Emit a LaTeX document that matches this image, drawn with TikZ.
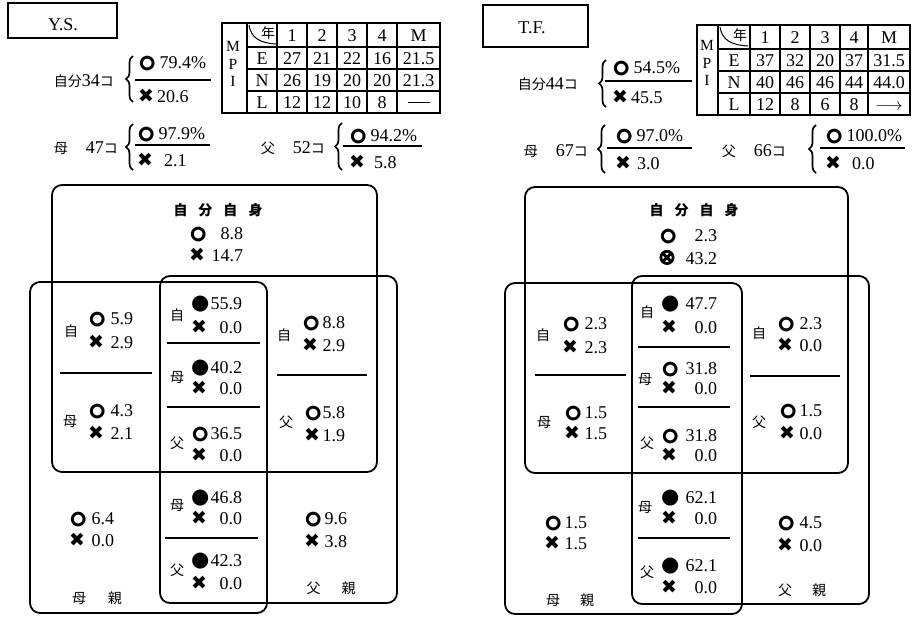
\documentclass[tikz,border=0pt]{standalone}
\usepackage{fontspec}
\setmainfont{Liberation Serif}
\newfontfamily\jpf{Noto Sans CJK JP}
\newfontfamily\symf{DejaVu Sans}
\newfontfamily\symbf[FakeBold=6]{DejaVu Sans}
\newfontfamily\emo{Noto Emoji}
\usetikzlibrary{decorations.pathreplacing}
\newcommand\Jp[1]{{\fontsize{14}{15}\selectfont\jpf #1}}
\newcommand\So{{\fontsize{14.5}{14}\selectfont\emo ⭕}}
\newcommand\Sx{{\fontsize{19}{18}\selectfont\symf ✖}}
\newcommand\Sb{{\fontsize{21}{20}\selectfont\symf ●}}
\newcommand\Sox{{\fontsize{21}{18}\selectfont\symbf ⊗}}
\newcommand\ent[3]{\makebox[#1][l]{#2\hfill #3}}
\begin{document}
\begin{tikzpicture}[x=1pt,y=-1pt,
  num/.style={font=\fontsize{18}{20}\selectfont, inner sep=0pt, text height=12pt, text depth=0pt},
  mpi/.style={font=\fontsize{15.5}{17.5}\selectfont, inner sep=0pt, align=center},
  jpt/.style={font=\fontsize{14}{15}\selectfont\jpf, inner sep=0pt},
  ttl/.style={font=\fontsize{14}{15}\selectfont\jpf\bfseries, inner sep=0pt},
  venn/.style={line width=1.8pt, rounded corners=10pt},
  divd/.style={line width=1.5pt},
  frac/.style={line width=1.5pt},
  brc/.style={decorate, decoration={brace, amplitude=7pt}, line width=1.7pt},
  tabin/.style={line width=1.2pt},
  tabout/.style={line width=2pt},
  tbox/.style={draw, line width=1.5pt, inner sep=0pt},
]
\useasboundingbox (0,0) rectangle (912,616);

%%%%%%%%%%%%%%%% LEFT PANEL : Y.S. %%%%%%%%%%%%%%%%
\node[tbox, minimum width=109pt, minimum height=35pt] (ysbox) at (62.5,20.5) {};
\node[num] (ystxt) at (63,24) {Y.S.};

% self
\node[num, anchor=east] (ysself) at (114,80) {\Jp{自分}34\Jp{コ}};
\draw[brc] (133,102) -- (133,56);
\node[num, anchor=west] (ysselfo) at (138,62) {\So\,79.4\%};
\draw[frac] (135,80) -- (211,80);
\node[num, anchor=west] (ysselfx) at (138,96) {\Sx\,20.6};
% mother
\node[num, anchor=east] (ysmom) at (118,147) {\Jp{母}\hspace{18pt}47\Jp{コ}};
\draw[brc] (133,170) -- (133,124);
\node[num, anchor=west] (ysmomo) at (137,133) {\So\,97.9\%};
\draw[frac] (135,145) -- (210,145);
\node[num, anchor=west] (ysmomx) at (137,160) {\Sx\hspace{11pt}2.1};
% father
\node[num, anchor=east] (ysdad) at (325,147) {\Jp{父}\hspace{18pt}52\Jp{コ}};
\draw[brc] (342,170) -- (342,123);
\node[num, anchor=west] (ysdado) at (349,135) {\So\,94.2\%};
\draw[frac] (343,146) -- (422,146);
\node[num, anchor=west] (ysdadx) at (349,162) {\Sx\hspace{9pt}5.8};

% table
\draw[tabout] (222,23) rectangle (440,113);
\foreach \xx in {247,277,307,337,367,397} \draw[tabin] (\xx,23) -- (\xx,113);
\foreach \yy in {47,69,91} \draw[tabin] (247,\yy) -- (440,\yy);
\draw[line width=1pt] (249,25) .. controls (251,38) and (260,43) .. (276,44);
\node[jpt] (ysnen) at (268,33) {年};
\node[mpi] (ysMPI) at (233,64) {M\\P\\I};
\foreach \v [count=\i] in {1,2,3,4,M}
  \node[num] (ysh\i) at ({262+30*\i+(\i==5)*6.5},35) {\v};
\node[num] (ysE) at (262,58) {E};
\node[num] (ysN) at (262,80) {N};
\node[num] (ysL) at (262,102) {L};
\foreach \v [count=\i] in {27,21,22,16,21.5}
  \node[num] (yse\i) at ({262+30*\i+(\i==5)*6.5},58) {\v};
\foreach \v [count=\i] in {26,19,20,20,21.3}
  \node[num] (ysn\i) at ({262+30*\i+(\i==5)*6.5},80) {\v};
\foreach \v [count=\i] in {12,12,10,8}
  \node[num] (ysl\i) at ({262+30*\i},102) {\v};
\node[num] (ysl5) at (418.5,102) {\rule[5pt]{22pt}{1.4pt}};

% Venn
\draw[venn] (52,185) rectangle (377,472);
\draw[venn] (30,282) rectangle (267,613);
\draw[venn] (160,276) rectangle (397,603);
\draw[divd] (60,373) -- (152,373);
\draw[divd] (277,375) -- (367,375);
\draw[divd] (167,343) -- (260,343);
\draw[divd] (167,407) -- (260,407);
\draw[divd] (165,538) -- (258,538);

\node[ttl] (ysT) at (218,210) {自\hspace{11pt}分\hspace{11pt}自\hspace{11pt}身};
\node[num, anchor=west] (ysTo) at (189,233) {\ent{54pt}{\So}{8.8}};
\node[num, anchor=west] (ysTx) at (189,255) {\ent{54pt}{\Sx}{14.7}};

\node[jpt] (ysLa) at (71,331) {自};
\node[num, anchor=west] (ysLao) at (88,318) {\ent{45pt}{\So}{5.9}};
\node[num, anchor=west] (ysLax) at (88,342) {\ent{45pt}{\Sx}{2.9}};
\node[jpt] (ysLb) at (70,422) {母};
\node[num, anchor=west] (ysLbo) at (88,410) {\ent{45pt}{\So}{4.3}};
\node[num, anchor=west] (ysLbx) at (88,433) {\ent{45pt}{\Sx}{2.1}};

\node[jpt] (ysRa) at (284,335) {自};
\node[num, anchor=west] (ysRao) at (302,322) {\ent{43pt}{\So}{8.8}};
\node[num, anchor=west] (ysRax) at (302,345) {\ent{43pt}{\Sx}{2.9}};
\node[jpt] (ysRb) at (286,422) {父};
\node[num, anchor=west] (ysRbo) at (304,412) {\ent{41pt}{\So}{5.8}};
\node[num, anchor=west] (ysRbx) at (304,435) {\ent{41pt}{\Sx}{1.9}};

\node[jpt] (ysMa) at (177,315) {自};
\node[num, anchor=west] (ysMao) at (191,303) {\ent{51pt}{\Sb}{55.9}};
\node[num, anchor=west] (ysMax) at (191,327) {\ent{51pt}{\Sx}{0.0}};
\node[jpt] (ysMb) at (177,378) {母};
\node[num, anchor=west] (ysMbo) at (191,367) {\ent{51pt}{\Sb}{40.2}};
\node[num, anchor=west] (ysMbx) at (191,388) {\ent{51pt}{\Sx}{0.0}};
\node[jpt] (ysMc) at (177,443) {父};
\node[num, anchor=west] (ysMco) at (191,433) {\ent{51pt}{\So}{36.5}};
\node[num, anchor=west] (ysMcx) at (191,455) {\ent{51pt}{\Sx}{0.0}};
\node[jpt] (ysMd) at (177,506) {母};
\node[num, anchor=west] (ysMdo) at (191,497) {\ent{51pt}{\Sb}{46.8}};
\node[num, anchor=west] (ysMdx) at (191,518) {\ent{51pt}{\Sx}{0.0}};
\node[jpt] (ysMe) at (177,570) {父};
\node[num, anchor=west] (ysMeo) at (191,560) {\ent{51pt}{\Sb}{42.3}};
\node[num, anchor=west] (ysMex) at (191,583) {\ent{51pt}{\Sx}{0.0}};

\node[num, anchor=west] (ysBLo) at (69,518) {\ent{45pt}{\So}{6.4}};
\node[num, anchor=west] (ysBLx) at (69,540) {\ent{45pt}{\Sx}{0.0}};
\node[num, anchor=west] (ysBRo) at (304,518) {\ent{43pt}{\So}{9.6}};
\node[num, anchor=west] (ysBRx) at (304,541) {\ent{43pt}{\Sx}{3.8}};
\node[jpt] (ysmother) at (97,598) {母\hspace{22pt}親};
\node[jpt] (ysfather) at (331,588) {父\hspace{21pt}親};

%%%%%%%%%%%%%%%% RIGHT PANEL : T.F. %%%%%%%%%%%%%%%%
\node[tbox, minimum width=105pt, minimum height=42pt] (tfbox) at (535.5,26) {};
\node[num] (tftxt) at (532,27) {T.F.};

\node[num, anchor=east] (tfself) at (578,83) {\Jp{自分}44\Jp{コ}};
\draw[brc] (606,107) -- (606,60);
\node[num, anchor=west] (tfselfo) at (612,67) {\So\,54.5\%};
\draw[frac] (605,81) -- (692,81);
\node[num, anchor=west] (tfselfx) at (612,97) {\Sx\,45.5};

\node[num, anchor=east] (tfmom) at (588,150) {\Jp{母}\hspace{18pt}67\Jp{コ}};
\draw[brc] (605,173) -- (605,125);
\node[num, anchor=west] (tfmomo) at (615,135) {\So\,97.0\%};
\draw[frac] (607,148) -- (692,148);
\node[num, anchor=west] (tfmomx) at (615,163) {\Sx\hspace{6pt}3.0};

\node[num, anchor=east] (tfdad) at (786,150) {\Jp{父}\hspace{18pt}66\Jp{コ}};
\draw[brc] (816,173) -- (816,125);
\node[num, anchor=west] (tfdado) at (825,135) {\So\,100.0\%};
\draw[frac] (820,148) -- (905,148);
\node[num, anchor=west] (tfdadx) at (825,163) {\Sx\hspace{11pt}0.0};

% table
\draw[tabout] (697,25) rectangle (910,115);
\foreach \xx in {718,750,780,810,840,868} \draw[tabin] (\xx,25) -- (\xx,115);
\foreach \yy in {49,71,93} \draw[tabin] (718,\yy) -- (910,\yy);
\draw[line width=1pt] (720,27) .. controls (722,40) and (731,45) .. (748,46);
\node[jpt] (tfnen) at (740,35) {年};
\node[mpi] (tfMPI) at (707,63) {M\\P\\I};
\node[num] (tfh1) at (765,37) {1};
\node[num] (tfh2) at (795,37) {2};
\node[num] (tfh3) at (825,37) {3};
\node[num] (tfh4) at (854,37) {4};
\node[num] (tfh5) at (889,37) {M};
\node[num] (tfE) at (734,60) {E};
\node[num] (tfN) at (734,82) {N};
\node[num] (tfL) at (734,104) {L};
\foreach \v/\xx [count=\i] in {37/765,32/795,20/825,37/854,31.5/889}
  \node[num] (tfe\i) at (\xx,60) {\v};
\foreach \v/\xx [count=\i] in {40/765,46/795,46/825,44/854,44.0/889}
  \node[num] (tfn\i) at (\xx,82) {\v};
\foreach \v/\xx [count=\i] in {12/765,8/795,6/825,8/854}
  \node[num] (tfl\i) at (\xx,104) {\v};
\node[num] (tfl5) at (889,104) {$\longrightarrow$};

% Venn
\draw[venn] (525,187) rectangle (848,473);
\draw[venn] (505,283) rectangle (742,614);
\draw[venn] (632,276) rectangle (869,604);
\draw[divd] (535,375) -- (626,375);
\draw[divd] (750,376) -- (840,376);
\draw[divd] (638,347) -- (730,347);
\draw[divd] (638,407) -- (730,407);
\draw[divd] (638,538) -- (730,538);

\node[ttl] (tfT) at (694,210) {自\hspace{11pt}分\hspace{11pt}自\hspace{11pt}身};
\node[num, anchor=west] (tfTo) at (659,235) {\ent{58pt}{\So}{2.3}};
\node[num, anchor=west] (tfTx) at (658,258) {\ent{59pt}{\Sox}{43.2}};

\node[jpt] (tfLa) at (543,335) {自};
\node[num, anchor=west] (tfLao) at (562,323) {\ent{45pt}{\So}{2.3}};
\node[num, anchor=west] (tfLax) at (562,347) {\ent{45pt}{\Sx}{2.3}};
\node[jpt] (tfLb) at (544,423) {母};
\node[num, anchor=west] (tfLbo) at (564,412) {\ent{43pt}{\So}{1.5}};
\node[num, anchor=west] (tfLbx) at (564,433) {\ent{43pt}{\Sx}{1.5}};

\node[jpt] (tfRa) at (759,333) {自};
\node[num, anchor=west] (tfRao) at (777,323) {\ent{45pt}{\So}{2.3}};
\node[num, anchor=west] (tfRax) at (777,345) {\ent{45pt}{\Sx}{0.0}};
\node[jpt] (tfRb) at (759,422) {父};
\node[num, anchor=west] (tfRbo) at (779,410) {\ent{43pt}{\So}{1.5}};
\node[num, anchor=west] (tfRbx) at (779,433) {\ent{43pt}{\Sx}{0.0}};

\node[jpt] (tfMa) at (647,312) {自};
\node[num, anchor=west] (tfMao) at (661,303) {\ent{56pt}{\Sb}{47.7}};
\node[num, anchor=west] (tfMax) at (661,327) {\ent{56pt}{\Sx}{0.0}};
\node[jpt] (tfMb) at (645,380) {母};
\node[num, anchor=west] (tfMbo) at (661,368) {\ent{56pt}{\So}{31.8}};
\node[num, anchor=west] (tfMbx) at (661,388) {\ent{56pt}{\Sx}{0.0}};
\node[jpt] (tfMc) at (647,443) {父};
\node[num, anchor=west] (tfMco) at (661,435) {\ent{56pt}{\So}{31.8}};
\node[num, anchor=west] (tfMcx) at (661,455) {\ent{56pt}{\Sx}{0.0}};
\node[jpt] (tfMd) at (645,508) {母};
\node[num, anchor=west] (tfMdo) at (661,497) {\ent{56pt}{\Sb}{62.1}};
\node[num, anchor=west] (tfMdx) at (661,518) {\ent{56pt}{\Sx}{0.0}};
\node[jpt] (tfMe) at (647,572) {父};
\node[num, anchor=west] (tfMeo) at (661,565) {\ent{56pt}{\Sb}{62.1}};
\node[num, anchor=west] (tfMex) at (661,587) {\ent{56pt}{\Sx}{0.0}};

\node[num, anchor=west] (tfBLo) at (544,522) {\ent{43pt}{\So}{1.5}};
\node[num, anchor=west] (tfBLx) at (544,543) {\ent{43pt}{\Sx}{1.5}};
\node[num, anchor=west] (tfBRo) at (777,522) {\ent{45pt}{\So}{4.5}};
\node[num, anchor=west] (tfBRx) at (777,545) {\ent{45pt}{\Sx}{0.0}};
\node[jpt] (tfmother) at (570,600) {母\hspace{20pt}親};
\node[jpt] (tffather) at (802,590) {父\hspace{20pt}親};
\end{tikzpicture}
\end{document}
